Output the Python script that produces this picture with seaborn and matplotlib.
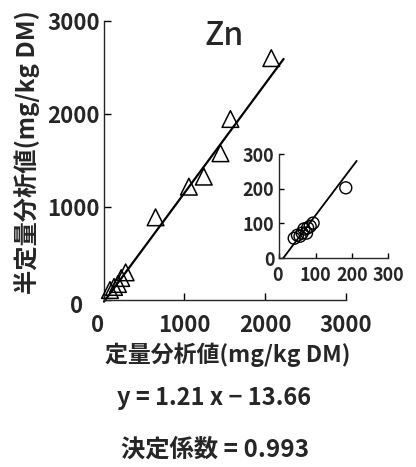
import matplotlib
matplotlib.use("Agg")
import matplotlib.pyplot as plt
import matplotlib.transforms as mtransforms
import seaborn as sns

# ---------------- data ----------------
tri_x = [2076, 1570, 1447, 1241, 1056, 644, 274, 220, 179, 130, 80]
tri_y = [2598, 1944, 1576, 1325, 1217, 888, 297, 236, 172, 140, 107]
main_line_x = [6, 2228]
main_line_y = [-18, 2589]

circ_x = [41, 50, 57, 63, 68, 75, 78, 85, 93, 183]
circ_y = [57, 66, 63, 72, 84, 72, 87, 92, 101, 203]
inset_line_x = [11, 213]
inset_line_y = [0, 281]

main_ticks = [0, 1000, 2000, 3000]
inset_ticks = [0, 100, 200, 300]

title_text = "Zn"
xlabel_text = "定量分析値(mg/kg DM)"
ylabel_text = "半定量分析値(mg/kg DM)"
eq_text = "y = 1.21 x − 13.66"
r2_text = "決定係数 = 0.993"

# ---------------- style ----------------
sns.set_style("ticks")
plt.rcParams["font.family"] = ["Noto Sans CJK JP", "DejaVu Sans"]
plt.rcParams["font.weight"] = "bold"
plt.rcParams["axes.labelweight"] = "bold"
plt.rcParams["axes.linewidth"] = 1.0

W, H = 416, 467
fig = plt.figure(figsize=(W / 100, H / 100), dpi=100)

# main axes: x 0..3000 -> px 103.5..346, y 0..3000 -> px 300..20.7
ax = fig.add_axes([103.5 / W, (H - 300) / H, 242.5 / W, 279.3 / H])
ax.set_xlim(0, 3000)
ax.set_ylim(0, 3000)
sns.despine(ax=ax)

sns.lineplot(x=main_line_x, y=main_line_y, ax=ax, color="black", lw=1.6,
             clip_on=False, zorder=2)
sns.scatterplot(x=tri_x, y=tri_y, ax=ax, marker="^", s=12 ** 2,
                facecolor="none", edgecolor="black", linewidth=1.1,
                clip_on=False, zorder=3)

ax.set_xticks(main_ticks)
ax.set_yticks(main_ticks)
ax.set_xticklabels([str(t) for t in main_ticks])
ax.set_yticklabels([str(t) for t in main_ticks])
ax.tick_params(axis="x", direction="in", length=5, width=1, pad=10,
               labelsize=16, color="black")
ax.tick_params(axis="y", direction="in", length=5, width=1, pad=2.5,
               labelsize=16, color="black")

# shift the "0" labels like in the reference
ylab0 = ax.yaxis.get_major_ticks()[0].label1
ylab0.set_transform(ylab0.get_transform() +
                    mtransforms.ScaledTranslation(-17 / 100, -4 / 100, fig.dpi_scale_trans))
xlab0 = ax.xaxis.get_major_ticks()[0].label1
xlab0.set_transform(xlab0.get_transform() +
                    mtransforms.ScaledTranslation(-6 / 100, 0, fig.dpi_scale_trans))

ax.set_xlabel(xlabel_text, fontsize=16.5, va="center", fontweight="bold")
ax.xaxis.set_label_coords((228 - 103.5) / 242.5, (300 - 355) / 279.3)
ax.set_ylabel(ylabel_text, fontsize=17.5, va="center", fontweight="bold")
ax.yaxis.set_label_coords((27 - 103.5) / 242.5, (300 - 152) / 279.3)

ax.text((224.5 - 103.5) / 242.5, (300 - 45) / 279.3, title_text,
        transform=ax.transAxes, ha="center", va="baseline",
        fontsize=23, fontweight="medium")

# inset axes: x 0..300 -> px 279.3..388.3, y 0..300 -> px 258..154.3
ins = fig.add_axes([279.3 / W, (H - 258) / H, 109 / W, 103.7 / H])
ins.set_xlim(0, 300)
ins.set_ylim(0, 300)
ins.patch.set_alpha(0)
sns.despine(ax=ins)
sns.lineplot(x=inset_line_x, y=inset_line_y, ax=ins, color="black", lw=1.3,
             clip_on=False, zorder=2)
sns.scatterplot(x=circ_x, y=circ_y, ax=ins, marker="o", s=8.6 ** 2,
                facecolor="none", edgecolor="black", linewidth=1.0,
                clip_on=False, zorder=3)
ins.set_xticks(inset_ticks)
ins.set_yticks(inset_ticks)
ins.set_xticklabels([str(t) for t in inset_ticks])
ins.set_yticklabels([str(t) for t in inset_ticks])
ins.tick_params(axis="x", direction="in", length=3.5, width=1, pad=6,
                labelsize=13, color="black")
ins.tick_params(axis="y", direction="in", length=3.5, width=1, pad=3.5,
                labelsize=13, color="black")
ix0 = ins.xaxis.get_major_ticks()[0].label1
ix0.set_transform(ix0.get_transform() +
                  mtransforms.ScaledTranslation(-2 / 100, 0, fig.dpi_scale_trans))

# equation texts
fig.text(214 / W, (H - 405) / H, eq_text, ha="center", va="baseline",
         fontsize=17)
fig.text(215 / W, (H - 457) / H, r2_text, ha="center", va="baseline",
         fontsize=17.5)

fig.savefig("out.png", dpi=100)
